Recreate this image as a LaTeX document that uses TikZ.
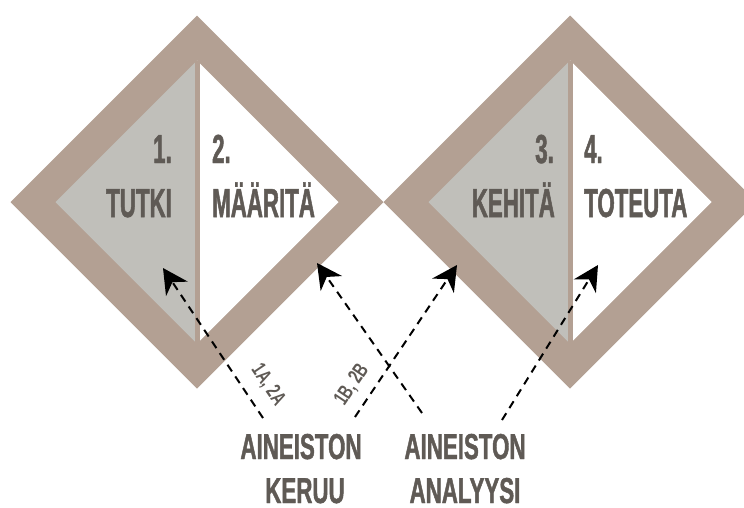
\documentclass[tikz,border=0pt]{standalone}
\usepackage{fontspec}
\usetikzlibrary{arrows.meta}
\newfontfamily\phasefont{Liberation Sans}[FakeStretch=0.55, BoldFeatures={FakeBold=1.2}]
\newfontfamily\stagefont{Liberation Sans}[FakeStretch=0.62, BoldFeatures={FakeBold=1.2}]
\newfontfamily\labelfont{Liberation Sans}[FakeStretch=0.68]
\definecolor{frame}{HTML}{B3A093}
\definecolor{halfgray}{HTML}{C0BFBA}
\definecolor{ink}{HTML}{5F5A55}
\tikzset{
  phasepair/.pic={
    \fill[frame] (0,-186.5) -- (186.5,0) -- (0,186.5) -- (-186.5,0) -- cycle;
    \fill[halfgray] (0,-141.5) -- (0,141.5) -- (-141.5,0) -- cycle;
    \fill[white] (0,-141.5) -- (141.5,0) -- (0,141.5) -- cycle;
    \draw[frame, line width=5pt] (0,-141.5) -- (0,141.5);
  },
  phasetext/.style={text=ink, inner sep=0pt, font=\phasefont\bfseries\fontsize{40.5}{40.5}\selectfont},
  stagetext/.style={text=ink, inner sep=0pt, font=\stagefont\bfseries\fontsize{36}{36}\selectfont},
  pathlabel/.style={text=ink, inner sep=0pt, font=\labelfont\bfseries\fontsize{21}{21}\selectfont},
  flow/.style={black, line width=2pt, dash pattern=on 8pt off 6pt,
    -{Stealth[length=25pt, width=26pt, inset=8pt]}}
}
\begin{document}
\begin{tikzpicture}[x=1pt, y=-1pt]
  \useasboundingbox (0,0) rectangle (744,507);
  \clip (0,0) rectangle (744,507);

  % two double-diamonds, each split into a grey and a white half
  \pic at (197,202) {phasepair};
  \pic at (570,202) {phasepair};

  % phase numbers and names
  \node[phasetext, anchor=base east] (n1) at (172,163) {1.};
  \node[phasetext, anchor=base east] (tutki) at (172,217) {TUTKI};
  \node[phasetext, anchor=base west] (n2) at (212,163) {2.};
  \node[phasetext, anchor=base west] (maarita) at (212,217) {MÄÄRITÄ};
  \node[phasetext, anchor=base east] (n3) at (554,163) {3.};
  \node[phasetext, anchor=base east] (kehita) at (555,217) {KEHITÄ};
  \node[phasetext, anchor=base west] (n4) at (584,163) {4.};
  \node[phasetext, anchor=base west] (toteuta) at (584,217) {TOTEUTA};

  % research stages below
  \node[stagetext, anchor=base] (keruu1) at (301,459) {AINEISTON};
  \node[stagetext, anchor=base] (keruu2) at (305,503) {KERUU};
  \node[stagetext, anchor=base] (analyysi1) at (465,459) {AINEISTON};
  \node[stagetext, anchor=base] (analyysi2) at (465,503) {ANALYYSI};

  % arrow ends
  \coordinate (keruuL) at (263,418);
  \coordinate (keruuR) at (355,417);
  \coordinate (analyysiL) at (422,413);
  \coordinate (analyysiR) at (502,420);
  \coordinate (inTutki) at (163,268);
  \coordinate (inMaarita) at (317,263);
  \coordinate (inKehita) at (457,265);
  \coordinate (inToteuta) at (598,265);

  \draw[flow] (keruuL) -- (inTutki);
  \draw[flow] (keruuR) -- (inKehita);
  \draw[flow] (analyysiL) -- (inMaarita);
  \draw[flow] (analyysiR) -- (inToteuta);

  % path labels along the collection arrows
  \node[pathlabel, rotate=-56] (labA) at (268,385) {1A,\hspace{4pt}2A};
  \node[pathlabel, rotate=56] (labB) at (352,385) {1B,\hspace{4pt}2B};
\end{tikzpicture}
\end{document}
